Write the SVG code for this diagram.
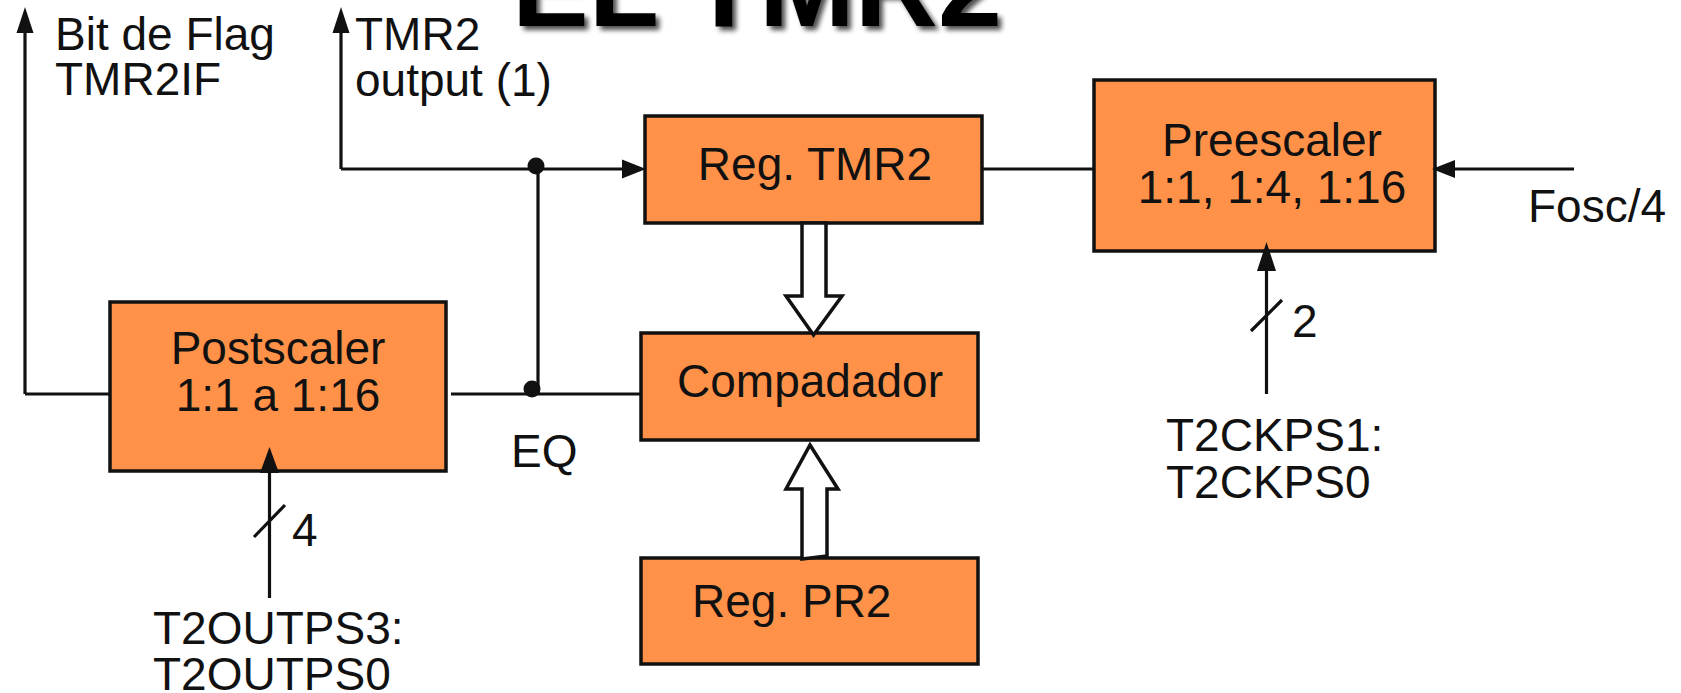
<svg xmlns="http://www.w3.org/2000/svg" width="1681" height="693" viewBox="0 0 1681 693">
<defs>
<style>
.box{fill:#ff9148;stroke:#111;stroke-width:3.5}
.t{font-family:"Liberation Sans",Arial,sans-serif;font-size:46px;fill:#111}
.ln{fill:none;stroke:#111;stroke-width:3.2}
.ah{fill:#111;stroke:none}
.hollow{fill:#fff;stroke:#111;stroke-width:3.5;stroke-linejoin:miter}
.title{font-family:"Liberation Sans",Arial,sans-serif;font-size:115px;font-weight:bold}
</style>
<filter id="sh" x="-10%" y="-50%" width="120%" height="200%">
<feGaussianBlur in="SourceAlpha" stdDeviation="2.5"/>
<feOffset dx="4" dy="4" result="b"/>
<feComponentTransfer in="b" result="s"><feFuncA type="linear" slope="0.7"/></feComponentTransfer>
<feMerge><feMergeNode in="s"/><feMergeNode in="SourceGraphic"/></feMerge>
</filter>
</defs>
<rect width="1681" height="693" fill="#fff"/>
<g id="title">
<text class="title" x="512" y="26" fill="#000" filter="url(#sh)">EL TMR2</text>
</g>
<g id="tmr2">
<rect class="box" x="645" y="116" width="337" height="107"/>
<text class="t" x="815" y="180" text-anchor="middle">Reg. TMR2</text>
</g>
<g id="preescaler">
<rect class="box" x="1094" y="80" width="341" height="171"/>
<text class="t" x="1272" y="156" text-anchor="middle">Preescaler</text>
<text class="t" x="1272" y="203" text-anchor="middle">1:1, 1:4, 1:16</text>
</g>
<g id="postscaler">
<rect class="box" x="110" y="302" width="336" height="169"/>
<text class="t" x="278" y="364" text-anchor="middle">Postscaler</text>
<text class="t" x="278" y="411" text-anchor="middle">1:1 a 1:16</text>
</g>
<g id="comparador">
<rect class="box" x="641" y="333" width="337" height="107"/>
<text class="t" x="810" y="397" text-anchor="middle">Compadador</text>
</g>
<g id="pr2">
<rect class="box" x="641" y="558" width="337" height="106"/>
<text class="t" x="692" y="617">Reg. PR2</text>
</g>
<g id="connectors">
<path class="ln" d="M25 394 H110 M25 394 V30"/>
<polygon class="ah" points="25,7 16.5,33 33.5,33"/>
<path class="ln" d="M341 169 H624 M341 30 V169"/>
<polygon class="ah" points="341,7 332.5,33 349.5,33"/>
<polygon class="ah" points="646,169 622,159.5 622,178.5"/>
<path class="ln" d="M538 169 V394 M451 394 H641"/>
<circle cx="536" cy="166" r="8.5" fill="#111"/>
<circle cx="532" cy="389" r="8.5" fill="#111"/>
<path class="ln" d="M982 169 H1094"/>
<path class="ln" d="M1574 169 H1452"/>
<polygon class="ah" points="1432,169 1455,160 1455,178"/>
<path class="ln" d="M269.5 598 V470 M254 537 L285 505"/>
<polygon class="ah" points="269.5,447 260,473 279,473"/>
<path class="ln" d="M1266.5 394 V268 M1251 331 L1282 300"/>
<polygon class="ah" points="1266.5,242 1257,271 1276,271"/>
<polygon class="hollow" points="802,223 826,223 826,296 842,296 813.5,335 786,296 802,296"/>
<polygon class="hollow" points="810,445 838,489 827,489 827,556 802,559 802,489 786,489"/>
</g>
<g id="labels">
<text class="t" x="55" y="50">Bit de Flag</text>
<text class="t" x="55" y="95">TMR2IF</text>
<text class="t" x="355" y="50">TMR2</text>
<text class="t" x="355" y="96">output (1)</text>
<text class="t" x="1528" y="222">Fosc/4</text>
<text class="t" x="511" y="467">EQ</text>
<text class="t" x="292" y="546">4</text>
<text class="t" x="153" y="644">T2OUTPS3:</text>
<text class="t" x="153" y="690">T2OUTPS0</text>
<text class="t" x="1292" y="337">2</text>
<text class="t" x="1166" y="451">T2CKPS1:</text>
<text class="t" x="1166" y="498">T2CKPS0</text>
</g>
</svg>
